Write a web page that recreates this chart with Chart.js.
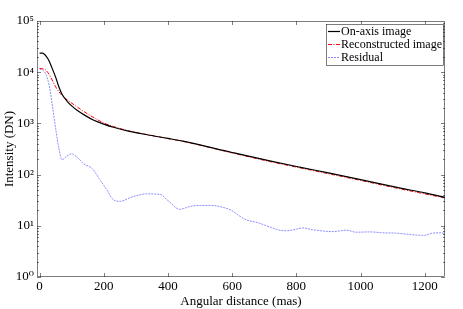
<!DOCTYPE html>
<html>
<head>
<meta charset="utf-8">
<script src="https://cdn.jsdelivr.net/npm/chart.js@4.4.1/dist/chart.umd.min.js"></script>
<style>
  html, body { margin: 0; padding: 0; background: #fff; }
  #wrap { width: 463px; height: 309px; }
</style>
</head>
<body>
<div id="wrap"><canvas id="profileChart"></canvas></div>
<script>
// on-axis profile
const onAxisDistance = [0, 8, 15, 22, 29, 39, 50, 60, 70, 86, 100, 117, 140, 169, 200, 230, 280, 335, 400, 447, 600, 717, 810, 900, 1000, 1121, 1200, 1263];
const onAxis = [23500, 23500, 22500, 20000, 17000, 12000, 8000, 5200, 3700, 2700, 2200, 1800, 1450, 1150, 970, 840, 700, 600, 510, 450, 270, 185, 140, 108, 80, 55, 44, 36];

// reconstructed profile
const reconDistance = [0, 8, 18, 26, 34, 42, 50, 65, 80, 96, 127, 160, 200, 230, 280, 335, 400, 447, 600, 717, 810, 900, 1000, 1121, 1200, 1263];
const reconstructed = [11800, 11700, 11200, 9800, 8100, 6500, 5200, 3800, 3100, 2600, 1900, 1400, 1020, 870, 710, 605, 505, 445, 265, 180, 136, 104, 77, 53, 42, 35];

// residual profile
const resDistance = [0, 10, 20, 30, 40, 50, 60, 70, 85, 100, 120, 137, 164, 190, 210, 226, 251, 280, 303, 334, 376, 400, 437, 470, 500, 536, 570, 598, 620, 645, 680, 707, 748, 773, 800, 820, 850, 914, 956, 986, 1030, 1069, 1110, 1140, 1173, 1200, 1220, 1245, 1263];
const residual = [11500, 11000, 9000, 5500, 2200, 800, 330, 195, 230, 254, 210, 163, 131, 76, 50, 34, 30, 35, 39, 42, 41, 31, 21, 24, 25, 25, 23, 20, 16, 13, 11.5, 10, 8.2, 8, 8.6, 9.1, 8.4, 7.7, 8.2, 7.5, 7.6, 7.3, 7.2, 6.9, 6.6, 6.5, 7.1, 7.3, 7.1];

const xTicks = [0, 200, 400, 600, 800, 1000, 1200];
const yDecades = [1, 10, 100, 1000, 10000, 100000];
const yLabels = ["10\u2070", "10\u00b9", "10\u00b2", "10\u00b3", "10\u2074", "10\u2075"];

const serif = "'Liberation Serif', 'DejaVu Serif', serif";
const axisColor = "#262626";

const toPoints = (xs, ys) => xs.map((x, i) => ({ x: x, y: ys[i] }));

// box, inward ticks and the legend, MATLAB style
const boxPlugin = {
  id: "boxPlugin",
  afterDraw(chart) {
    const ctx = chart.ctx;
    const a = chart.chartArea;
    const xs = chart.scales.x;
    const ys = chart.scales.y;
    ctx.save();
    ctx.strokeStyle = axisColor;
    ctx.lineWidth = 0.6;
    ctx.strokeRect(a.left + 0.5, a.top + 0.5, a.right - a.left - 1, a.bottom - a.top - 1);

    ctx.beginPath();
    xTicks.forEach(v => {
      const px = Math.round(xs.getPixelForValue(v)) + 0.5;
      ctx.moveTo(px, a.bottom); ctx.lineTo(px, a.bottom - 4);
      ctx.moveTo(px, a.top); ctx.lineTo(px, a.top + 4);
    });
    for (let d = 1; d < 100000; d *= 10) {
      for (let m = 1; m < 10; m++) {
        const py = Math.round(ys.getPixelForValue(d * m)) + 0.5;
        const len = m === 1 ? 4 : 2;
        ctx.moveTo(a.left, py); ctx.lineTo(a.left + len, py);
        ctx.moveTo(a.right, py); ctx.lineTo(a.right - len, py);
      }
    }
    ctx.stroke();

    // legend
    const lx = 326, ly = 24, lw = 117, lh = 41;
    ctx.fillStyle = "#fff";
    ctx.fillRect(lx, ly, lw, lh);
    ctx.strokeStyle = "#262626";
    ctx.lineWidth = 0.6;
    ctx.strokeRect(lx + 0.5, ly + 0.5, lw, lh);
    ctx.font = "12px " + serif;
    ctx.textBaseline = "middle";
    chart.data.datasets.forEach((ds, i) => {
      const y = ly + 7.5 + i * 13;
      ctx.strokeStyle = ds.borderColor;
      ctx.lineWidth = ds.borderWidth;
      ctx.setLineDash(ds.borderDash || []);
      ctx.beginPath();
      ctx.moveTo(lx + 2, y); ctx.lineTo(lx + 14, y);
      ctx.stroke();
      ctx.setLineDash([]);
      ctx.fillStyle = "#000";
      ctx.fillText(ds.label, lx + 15, y);
    });
    ctx.restore();
  }
};

new Chart(document.getElementById("profileChart"), {
  type: "line",
  data: {
    datasets: [{
      label: "On-axis image",
      data: toPoints(onAxisDistance, onAxis),
      borderColor: "#000000",
      borderWidth: 1.2
    }, {
      label: "Reconstructed image",
      data: toPoints(reconDistance, reconstructed),
      borderColor: "#ff0000",
      borderWidth: 1,
      borderDash: [4, 1.5, 1, 1.5]
    }, {
      label: "Residual",
      data: toPoints(resDistance, residual),
      borderColor: "#8c8cff",
      borderWidth: 1,
      borderDash: [2, 1]
    }]
  },
  options: {
    responsive: true,
    maintainAspectRatio: false,
    animation: false,
    layout: { padding: { top: 21, right: 18, left: 0, bottom: 0 } },
    elements: {
      point: { radius: 0 },
      line: { cubicInterpolationMode: "monotone" }
    },
    plugins: {
      legend: { display: false },
      tooltip: { enabled: false }
    },
    scales: {
      x: {
        type: "linear",
        min: -8,
        max: 1263,
        grid: { display: false, drawTicks: false },
        border: { display: false },
        afterBuildTicks: axis => { axis.ticks = xTicks.map(v => ({ value: v })); },
        afterFit: axis => { axis.height = 32; },
        ticks: {
          color: "#000",
          font: { family: serif, size: 13 },
          padding: 2,
          maxRotation: 0,
          autoSkip: false,
          callback: v => String(v)
        },
        title: {
          display: true,
          text: "Angular distance (mas)",
          color: "#000",
          font: { family: serif, size: 13 },
          padding: { top: 0, bottom: 0 }
        }
      },
      y: {
        type: "logarithmic",
        min: 1,
        max: 100000,
        grid: { display: false, drawTicks: false },
        border: { display: false },
        afterBuildTicks: axis => { axis.ticks = yDecades.map(v => ({ value: v })); },
        afterFit: axis => { axis.width = 37; },
        ticks: {
          color: "#000",
          font: { family: serif, size: 13 },
          padding: 3,
          autoSkip: false,
          callback: (v) => {
            const i = yDecades.indexOf(v);
            return i >= 0 ? yLabels[i] : "";
          }
        },
        title: {
          display: true,
          text: "Intensity (DN)",
          color: "#000",
          font: { family: serif, size: 13 },
          padding: { top: 2, bottom: 0 }
        }
      }
    }
  },
  plugins: [boxPlugin]
});
</script>
</body>
</html>
